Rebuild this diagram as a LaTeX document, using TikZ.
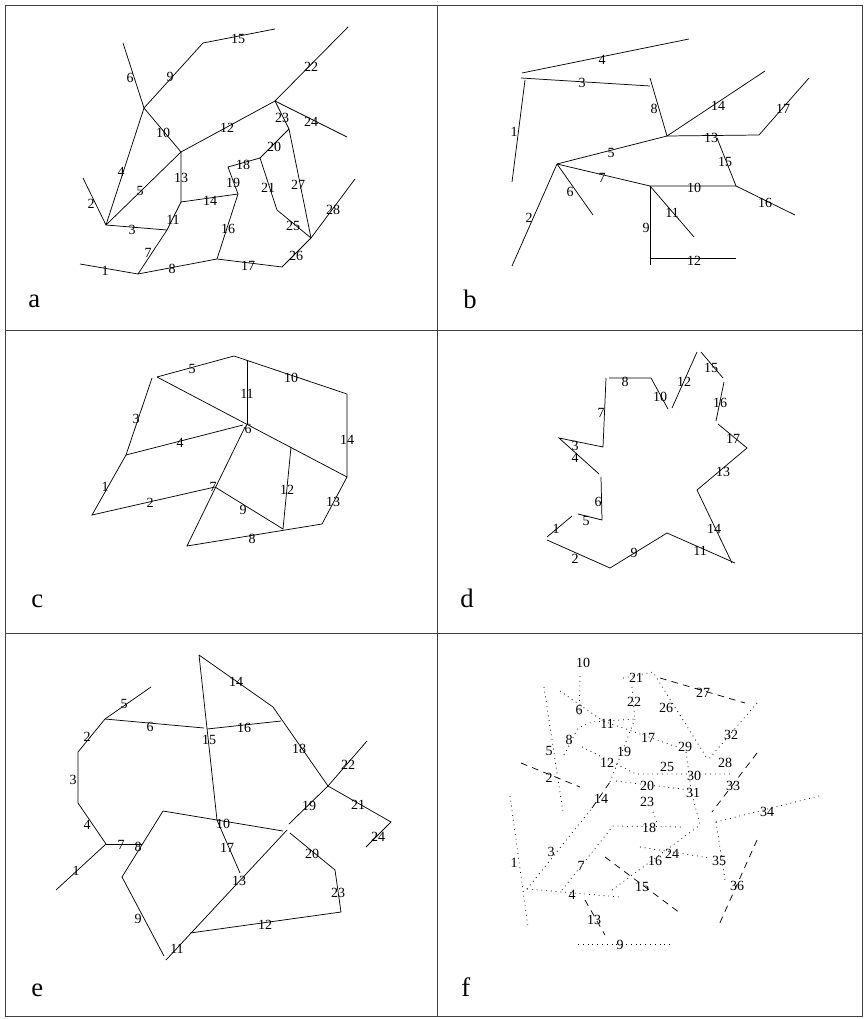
\documentclass[tikz,border=0pt]{standalone}
\usepackage{fontspec}
\setmainfont{Liberation Serif}
\newcommand\mklab[3]{\node[lbl] (#1) at (#2) {#3};}
\begin{document}
\begin{tikzpicture}[x=0.75pt,y=-0.75pt,
  ln/.style={line width=0.55pt},
  fdot/.style={line width=0.6pt, dash pattern=on 0.6pt off 3pt},
  fdash/.style={line width=0.55pt, dash pattern=on 5pt off 4pt},
  lbl/.style={inner sep=0pt, font=\fontsize{10.5}{12}\selectfont},
  plet/.style={inner sep=0pt, anchor=base west, font=\fontsize{20}{24}\selectfont},
  frame/.style={line width=0.6pt, draw=black!75}]
\useasboundingbox (0,0) rectangle (864,1019);
% ---------- frame ----------
\coordinate (fTL) at (5,5); \coordinate (fBR) at (862,1016);
\coordinate (fMT) at (437,5); \coordinate (fMB) at (437,1016);
\coordinate (fL1) at (5,330); \coordinate (fR1) at (862,330);
\coordinate (fL2) at (5,633); \coordinate (fR2) at (862,633);
\draw[frame] (fTL) rectangle (fBR);
\draw[frame] (fMT) -- (fMB);
\draw[frame] (fL1) -- (fR1);
\draw[frame] (fL2) -- (fR2);
\node[plet] (pa) at (28,308) {a};
\node[plet] (pb) at (463,309) {b};
\node[plet] (pc) at (31,607) {c};
\node[plet] (pd) at (460,607) {d};
\node[plet] (pe) at (31,996) {e};
\node[plet] (pf) at (461,996) {f};
% ---------- panel a ----------
\coordinate (aA) at (138,274);
\coordinate (aB) at (217,259);
\coordinate (aC) at (282,267);
\coordinate (aD) at (311,238);
\coordinate (aE) at (289,129);
\coordinate (aF) at (277,210);
\coordinate (aG) at (260,158);
\coordinate (aH) at (228,167);
\coordinate (aI) at (238,194);
\coordinate (aJ) at (181,202);
\coordinate (aK) at (181,152);
\coordinate (aL) at (167,230);
\coordinate (aM) at (106,225);
\coordinate (aN) at (144,108);
\coordinate (aO) at (203,43);
\coordinate (aP) at (275,101);
\coordinate (a1) at (80,264);
\coordinate (a28) at (355,179);
\coordinate (a2) at (83,178);
\coordinate (a6) at (123,43);
\coordinate (a15) at (275,29);
\coordinate (a22) at (348,27);
\coordinate (a24) at (347,137);
\draw[ln] (a1)--(aA)--(aB)--(aC)--(aD)--(a28);
\draw[ln] (aD)--(aE);
\draw[ln] (aD)--(aF)--(aG)--(aE);
\draw[ln] (aG)--(aH)--(aI)--(aB);
\draw[ln] (aI)--(aJ)--(aK);
\draw[ln] (aJ)--(aL)--(aA);
\draw[ln] (aM)--(aL);
\draw[ln] (aM)--(a2);
\draw[ln] (aM)--(aN)--(aK);
\draw[ln] (aM)--(aK);
\draw[ln] (aN)--(a6);
\draw[ln] (aN)--(aO)--(a15);
\draw[ln] (aK)--(aP)--(a22);
\draw[ln] (aP)--(a24);
\draw[ln] (aP)--(aE);
\mklab{la1}{105,271}{1}
\mklab{la2}{91,204}{2}
\mklab{la3}{132,230}{3}
\mklab{la4}{121,172}{4}
\mklab{la5}{140,191}{5}
\mklab{la6}{130,78}{6}
\mklab{la7}{148,253}{7}
\mklab{la8}{172,269}{8}
\mklab{la9}{170,77}{9}
\mklab{la10}{163,133}{10}
\mklab{la11}{173,220}{11}
\mklab{la12}{227,128}{12}
\mklab{la13}{181,178}{13}
\mklab{la14}{210,201}{14}
\mklab{la15}{238,39}{15}
\mklab{la16}{228,229}{16}
\mklab{la17}{248,266}{17}
\mklab{la18}{243,165}{18}
\mklab{la19}{233,183}{19}
\mklab{la20}{274,147}{20}
\mklab{la21}{268,188}{21}
\mklab{la22}{311,67}{22}
\mklab{la23}{282,118}{23}
\mklab{la24}{311,122}{24}
\mklab{la25}{293,226}{25}
\mklab{la26}{296,256}{26}
\mklab{la27}{298,185}{27}
\mklab{la28}{333,210}{28}
% ---------- panel b ----------
\coordinate (b4s) at (522,73);
\coordinate (b4e) at (689,39);
\coordinate (b3s) at (521,78);
\coordinate (b3e) at (650,86);
\coordinate (b1s) at (525,80);
\coordinate (b1e) at (512,182);
\coordinate (b8s) at (650,78);
\coordinate (bR) at (667,136);
\coordinate (bQ) at (557,164);
\coordinate (b14e) at (765,71);
\coordinate (bS) at (759,135);
\coordinate (b17e) at (809,78);
\coordinate (b15s) at (717,138);
\coordinate (bT) at (736,186);
\coordinate (b16e) at (795,215);
\coordinate (bU) at (650,186);
\coordinate (b6e) at (593,215);
\coordinate (b2e) at (512,266);
\coordinate (b11e) at (694,237);
\coordinate (b9e) at (650,265);
\coordinate (b12s) at (650,258);
\coordinate (b12e) at (736,258);
\draw[ln] (b4s)--(b4e);
\draw[ln] (b3s)--(b3e);
\draw[ln] (b1s)--(b1e);
\draw[ln] (b8s)--(bR);
\draw[ln] (bQ)--(bR)--(b14e);
\draw[ln] (bR)--(bS)--(b17e);
\draw[ln] (b15s)--(bT)--(b16e);
\draw[ln] (bQ)--(bU)--(bT);
\draw[ln] (bQ)--(b6e);
\draw[ln] (bQ)--(b2e);
\draw[ln] (bU)--(b11e);
\draw[ln] (bU)--(b9e);
\draw[ln] (b12s)--(b12e);
\mklab{lb1}{514,132}{1}
\mklab{lb2}{529,218}{2}
\mklab{lb3}{582,83}{3}
\mklab{lb4}{602,60}{4}
\mklab{lb5}{611,153}{5}
\mklab{lb6}{570,192}{6}
\mklab{lb7}{602,178}{7}
\mklab{lb8}{654,109}{8}
\mklab{lb9}{646,228}{9}
\mklab{lb10}{694,188}{10}
\mklab{lb11}{672,213}{11}
\mklab{lb12}{694,261}{12}
\mklab{lb13}{711,138}{13}
\mklab{lb14}{718,106}{14}
\mklab{lb15}{725,162}{15}
\mklab{lb16}{765,203}{16}
\mklab{lb17}{783,109}{17}
% ---------- panel c ----------
\coordinate (cV) at (234,356);
\coordinate (cX) at (347,394);
\coordinate (cY) at (247,424);
\coordinate (cZ) at (347,477);
\coordinate (cW) at (126,455);
\coordinate (cAA) at (92,515);
\coordinate (cAB) at (215,487);
\coordinate (cAC) at (187,546);
\coordinate (cAD) at (283,529);
\coordinate (cAE) at (322,524);
\coordinate (c5s) at (157,377);
\coordinate (c3s) at (152,378);
\coordinate (c11s) at (247,360);
\coordinate (c4e) at (243,425);
\coordinate (c7s) at (245,427);
\coordinate (c12e) at (291,447);
\draw[ln] (c5s)--(cV)--(cX)--(cZ);
\draw[ln] (c3s)--(cW);
\draw[ln] (c11s)--(cY);
\draw[ln] (c5s)--(cZ);
\draw[ln] (cW)--(c4e);
\draw[ln] (cW)--(cAA)--(cAB);
\draw[ln] (c7s)--(cAC)--(cAE)--(cZ);
\draw[ln] (cAB)--(cAD)--(c12e);
\mklab{lc1}{105,487}{1}
\mklab{lc2}{150,503}{2}
\mklab{lc3}{136,419}{3}
\mklab{lc4}{180,443}{4}
\mklab{lc5}{192,369}{5}
\mklab{lc6}{248,429}{6}
\mklab{lc7}{213,487}{7}
\mklab{lc8}{252,539}{8}
\mklab{lc9}{243,510}{9}
\mklab{lc10}{291,378}{10}
\mklab{lc11}{247,394}{11}
\mklab{lc12}{287,490}{12}
\mklab{lc13}{333,502}{13}
\mklab{lc14}{347,440}{14}
% ---------- panel d ----------
\coordinate (d1s) at (547,537); \coordinate (d1e) at (572,516);
\coordinate (d5s) at (578,514); \coordinate (d5e) at (602,520);
\coordinate (d6e) at (601,477);
\coordinate (d4s) at (599,474); \coordinate (d4e) at (559,438);
\coordinate (d3e) at (603,447);
\coordinate (d7e) at (606,378);
\coordinate (d8s) at (609,378); \coordinate (d8e) at (651,378);
\coordinate (d10e) at (668,409);
\coordinate (d12s) at (672,408); \coordinate (d12e) at (697,352);
\coordinate (d15s) at (701,352); \coordinate (d15e) at (723,378);
\coordinate (d16s) at (724,382); \coordinate (d16e) at (716,421);
\coordinate (d17s) at (718,424); \coordinate (d17e) at (747,448);
\coordinate (d13e) at (697,490);
\coordinate (d14e) at (732,563);
\coordinate (d11s) at (735,563); \coordinate (d11e) at (667,533);
\coordinate (d9e) at (610,568);
\coordinate (d2e) at (547,540);
\draw[ln] (d1s)--(d1e);
\draw[ln] (d5s)--(d5e)--(d6e);
\draw[ln] (d4s)--(d4e)--(d3e)--(d7e);
\draw[ln] (d8s)--(d8e)--(d10e);
\draw[ln] (d12s)--(d12e);
\draw[ln] (d15s)--(d15e);
\draw[ln] (d16s)--(d16e);
\draw[ln] (d17s)--(d17e)--(d13e)--(d14e);
\draw[ln] (d11s)--(d11e)--(d9e)--(d2e);
\mklab{ld1}{556,529}{1}
\mklab{ld2}{575,559}{2}
\mklab{ld3}{575,446}{3}
\mklab{ld4}{575,458}{4}
\mklab{ld5}{586,521}{5}
\mklab{ld6}{598,502}{6}
\mklab{ld7}{601,413}{7}
\mklab{ld8}{625,382}{8}
\mklab{ld9}{634,553}{9}
\mklab{ld10}{660,397}{10}
\mklab{ld11}{700,551}{11}
\mklab{ld12}{684,382}{12}
\mklab{ld13}{723,472}{13}
\mklab{ld14}{714,529}{14}
\mklab{ld15}{711,368}{15}
\mklab{ld16}{720,403}{16}
\mklab{ld17}{733,439}{17}
% ---------- panel e ----------
\coordinate (eAF) at (106,844);
\coordinate (eAG) at (328,786);
\coordinate (e1s) at (56,890);
\coordinate (e4) at (78,803);
\coordinate (e3) at (78,752);
\coordinate (e2) at (105,719);
\coordinate (e5e) at (151,687);
\coordinate (e6e) at (204,728);
\coordinate (e15s) at (199,655);
\coordinate (e15e) at (217,820);
\coordinate (e14e) at (273,707);
\coordinate (e16s) at (207,729);
\coordinate (e16e) at (281,721);
\coordinate (e22e) at (367,741);
\coordinate (e21e) at (391,822);
\coordinate (e24e) at (366,847);
\coordinate (e19e) at (289,824);
\coordinate (e10s) at (163,811);
\coordinate (e10e) at (283,831);
\coordinate (e17e) at (240,873);
\coordinate (e8) at (122,877);
\coordinate (e9e) at (164,956);
\coordinate (e7e) at (142,844);
\coordinate (e13s) at (287,830);
\coordinate (e13e) at (166,960);
\coordinate (e12s) at (190,933);
\coordinate (e12e) at (341,912);
\coordinate (e23) at (335,870);
\coordinate (e20e) at (290,833);
\draw[ln] (e1s)--(eAF)--(e4)--(e3)--(e2)--(e5e);
\draw[ln] (e2)--(e6e);
\draw[ln] (e15s)--(e15e)--(e17e);
\draw[ln] (e15s)--(e14e)--(eAG)--(e22e);
\draw[ln] (e16s)--(e16e);
\draw[ln] (eAG)--(e21e)--(e24e);
\draw[ln] (eAG)--(e19e);
\draw[ln] (e10s)--(e10e);
\draw[ln] (e10s)--(e8)--(e9e);
\draw[ln] (eAF)--(e7e);
\draw[ln] (e13s)--(e13e);
\draw[ln] (e12s)--(e12e)--(e23)--(e20e);
\mklab{le1}{76,871}{1}
\mklab{le2}{87,737}{2}
\mklab{le3}{73,780}{3}
\mklab{le4}{87,825}{4}
\mklab{le5}{124,704}{5}
\mklab{le6}{150,727}{6}
\mklab{le7}{121,845}{7}
\mklab{le8}{138,847}{8}
\mklab{le9}{138,919}{9}
\mklab{le10}{223,824}{10}
\mklab{le11}{177,949}{11}
\mklab{le12}{265,925}{12}
\mklab{le13}{239,881}{13}
\mklab{le14}{236,682}{14}
\mklab{le15}{209,740}{15}
\mklab{le16}{244,728}{16}
\mklab{le17}{227,848}{17}
\mklab{le18}{299,749}{18}
\mklab{le19}{309,806}{19}
\mklab{le20}{312,854}{20}
\mklab{le21}{358,805}{21}
\mklab{le22}{348,765}{22}
\mklab{le23}{338,893}{23}
\mklab{le24}{378,837}{24}
% ---------- panel f ----------
\coordinate (f1s) at (510,796); \coordinate (f1e) at (528,927);
\coordinate (fJ) at (527,889);
\coordinate (f3e) at (592,808);
\coordinate (f14e) at (610,782);
\coordinate (f4e) at (620,897);
\coordinate (f7s) at (562,890);
\coordinate (f18s) at (613,826); \coordinate (f18e) at (683,827);
\coordinate (f16s) at (612,890); \coordinate (f16e) at (700,825);
\coordinate (f24s) at (640,847); \coordinate (f24e) at (710,858);
\coordinate (f35s) at (716,822); \coordinate (f35e) at (725,880);
\coordinate (f36s) at (757,840); \coordinate (f36e) at (718,927);
\coordinate (f34e) at (823,795);
\coordinate (f33s) at (757,753); \coordinate (f33e) at (712,812);
\coordinate (f20s) at (616,781); \coordinate (f20e) at (690,790);
\coordinate (f23s) at (653,812); \coordinate (f23e) at (658,825);
\coordinate (f15s) at (605,857); \coordinate (f15e) at (680,913);
\coordinate (f13s) at (585,900); \coordinate (f13e) at (605,935);
\coordinate (f9s) at (578,944); \coordinate (f9e) at (673,944);
\coordinate (f2s) at (521,763); \coordinate (f2e) at (580,787);
\coordinate (f5s) at (544,687); \coordinate (f5e) at (563,812);
\coordinate (f10s) at (580,676); \coordinate (f10e) at (579,718);
\coordinate (f6s) at (560,691); \coordinate (f6e) at (603,721);
\coordinate (f8s) at (564,755); \coordinate (f8e) at (578,728);
\coordinate (f11m) at (592,722); \coordinate (f11e) at (635,719);
\coordinate (f22s) at (632,687);
\coordinate (f21s) at (623,678); \coordinate (f21e) at (653,672);
\coordinate (f27s) at (660,678); \coordinate (f27e) at (745,703);
\coordinate (f26e) at (708,760);
\coordinate (f32s) at (757,703);
\coordinate (f17e) at (680,748);
\coordinate (f29s) at (686,752); \coordinate (f29m) at (691,790);
\coordinate (f12s) at (582,747); \coordinate (f12m) at (620,766);
\coordinate (f25m) at (636,774); \coordinate (f25e) at (730,774);
\draw[fdot] (f1s)--(f1e);
\draw[fdot] (fJ)--(f3e);
\draw[fdash] (f3e)--(f14e);
\draw[fdot] (fJ)--(f4e);
\draw[fdot] (f7s)--(f18s)--(f18e);
\draw[fdot] (f16s)--(f16e);
\draw[fdot] (f24s)--(f24e);
\draw[fdot] (f35s)--(f35e);
\draw[fdash] (f36s)--(f36e);
\draw[fdot] (f35s)--(f34e);
\draw[fdash] (f33s)--(f33e);
\draw[fdot] (f20s)--(f20e);
\draw[fdot] (f23s)--(f23e);
\draw[fdash] (f15s)--(f15e);
\draw[fdash] (f13s)--(f13e);
\draw[fdot] (f9s)--(f9e);
\draw[fdash] (f2s)--(f2e);
\draw[fdot] (f5s)--(f5e);
\draw[fdot] (f10s)--(f10e);
\draw[fdot] (f6s)--(f6e)--(f17e);
\draw[fdot] (f8s)--(f8e)--(f11m)--(f11e);
\draw[fdot] (f22s)--(f11e);
\draw[fdot] (f21s)--(f21e)--(f26e);
\draw[fdash] (f27s)--(f27e);
\draw[fdot] (f32s)--(f26e);
\draw[fdot] (f29s)--(f29m)--(f16e);
\draw[fdot] (f12s)--(f12m)--(f25m)--(f25e);
\draw[fdot] (f14e)--(f11e);
\mklab{lf1}{514,863}{1}
\mklab{lf2}{549,778}{2}
\mklab{lf3}{551,852}{3}
\mklab{lf4}{572,895}{4}
\mklab{lf5}{549,751}{5}
\mklab{lf6}{579,710}{6}
\mklab{lf7}{581,866}{7}
\mklab{lf8}{569,740}{8}
\mklab{lf9}{620,945}{9}
\mklab{lf10}{583,663}{10}
\mklab{lf11}{607,724}{11}
\mklab{lf12}{607,763}{12}
\mklab{lf13}{594,920}{13}
\mklab{lf14}{601,799}{14}
\mklab{lf15}{642,887}{15}
\mklab{lf16}{655,861}{16}
\mklab{lf17}{648,738}{17}
\mklab{lf18}{649,828}{18}
\mklab{lf19}{624,752}{19}
\mklab{lf20}{647,786}{20}
\mklab{lf21}{636,678}{21}
\mklab{lf22}{634,702}{22}
\mklab{lf23}{647,802}{23}
\mklab{lf24}{672,854}{24}
\mklab{lf25}{667,767}{25}
\mklab{lf26}{666,708}{26}
\mklab{lf27}{703,693}{27}
\mklab{lf28}{725,763}{28}
\mklab{lf29}{685,747}{29}
\mklab{lf30}{694,776}{30}
\mklab{lf31}{693,793}{31}
\mklab{lf32}{731,735}{32}
\mklab{lf33}{733,786}{33}
\mklab{lf34}{767,812}{34}
\mklab{lf35}{719,861}{35}
\mklab{lf36}{737,886}{36}
\end{tikzpicture}
\end{document}
